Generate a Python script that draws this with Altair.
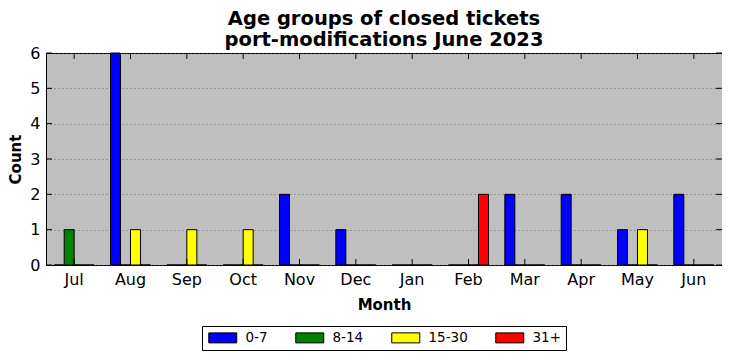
import altair as alt
import pandas as pd

months = ["Jul", "Aug", "Sep", "Oct", "Nov", "Dec", "Jan", "Feb", "Mar", "Apr", "May", "Jun"]
groups = ["0-7", "8-14", "15-30", "31+"]
c_0_7 = [0, 6, 0, 0, 2, 1, 0, 0, 2, 2, 1, 2]
c_8_14 = [1, 0, 0, 0, 0, 0, 0, 0, 0, 0, 0, 0]
c_15_30 = [0, 1, 1, 1, 0, 0, 0, 0, 0, 0, 1, 0]
c_31p = [0, 0, 0, 0, 0, 0, 0, 2, 0, 0, 0, 0]
colors = ["#0000ff", "#008000", "#ffff00", "#ff0000"]
y_ticks = [0, 1, 2, 3, 4, 5, 6]
title_lines = ["Age groups of closed tickets", "port-modifications June 2023"]

rows = []
for g, vals in zip(groups, [c_0_7, c_8_14, c_15_30, c_31p]):
    for m, v in zip(months, vals):
        rows.append({"Month": m, "Group": g, "Count": v})
df = pd.DataFrame(rows)
mdf = pd.DataFrame({"Month": months})
ydf = pd.DataFrame({"Count": y_ticks})

W, H = 676, 212
FONT = "DejaVu Sans"
TL = 6

xscale = alt.Scale(domain=months, paddingInner=0, paddingOuter=0)
yscale = alt.Scale(domain=[0, 6], nice=False)

xaxis = alt.Axis(title="Month", labelAngle=0, ticks=False, domain=False,
                 labelFontSize=16, labelPadding=6, labelColor="black",
                 titleFontSize=15, titleFontWeight="bold", titlePadding=10,
                 titleColor="black")
yaxis = alt.Axis(title="Count", values=y_ticks, ticks=False, domain=False,
                 grid=True, gridColor="#555555", gridDash=[1, 3], gridWidth=0.8,
                 labelOverlap=False, labelFlush=False,
                 labelFontSize=16, labelPadding=6, labelColor="black",
                 titleFontSize=15, titleFontWeight="bold", titlePadding=6,
                 titleColor="black")

bars = alt.Chart(df).mark_bar(stroke="black", strokeWidth=1).encode(
    x=alt.X("Month:N", sort=months, scale=xscale, axis=xaxis),
    xOffset=alt.XOffset("Group:N", sort=groups,
                        scale=alt.Scale(domain=groups, paddingInner=0, paddingOuter=0.818)),
    y=alt.Y("Count:Q", scale=yscale, axis=yaxis),
    color=alt.Color("Group:N", sort=groups, scale=alt.Scale(domain=groups, range=colors),
                    legend=alt.Legend(title=None, orient="none", legendX=156, legendY=273,
                                      direction="horizontal", columns=4,
                                      symbolType="M-1,-1H4.6V1H-1Z", symbolSize=100,
                                      symbolStrokeColor="black", symbolStrokeWidth=1,
                                      labelFontSize=13.5, labelOffset=25, columnPadding=25,
                                      padding=5, strokeColor="black", fillColor="white",
                                      labelColor="black", cornerRadius=0)),
)

xt_bottom = alt.Chart(mdf).mark_rule(color="black", strokeWidth=1).encode(
    x=alt.X("Month:N", sort=months, scale=xscale, axis=xaxis), y=alt.value(H), y2=alt.value(H - TL))
xt_top = alt.Chart(mdf).mark_rule(color="black", strokeWidth=1).encode(
    x=alt.X("Month:N", sort=months, scale=xscale, axis=xaxis), y=alt.value(0), y2=alt.value(TL))
yt_left = alt.Chart(ydf).mark_rule(color="black", strokeWidth=1).encode(
    y=alt.Y("Count:Q", scale=yscale, axis=yaxis), x=alt.value(0), x2=alt.value(TL))
yt_right = alt.Chart(ydf).mark_rule(color="black", strokeWidth=1).encode(
    y=alt.Y("Count:Q", scale=yscale, axis=yaxis), x=alt.value(W - TL), x2=alt.value(W))

chart = alt.layer(bars, xt_bottom, xt_top, yt_left, yt_right).properties(
    width=W, height=H,
    title=alt.TitleParams(text=title_lines, fontSize=19.5, fontWeight="bold", font=FONT,
                          anchor="middle", frame="group", baseline="bottom", offset=3,
                          dy=27, lineHeight=21, color="black"),
    autosize=alt.AutoSizeParams(type="none"),
    padding={"left": 38, "top": 45, "right": 0, "bottom": 88},
).configure(font=FONT).configure_view(
    fill="#bfbfbf", stroke="black", strokeWidth=1
)

chart.save("out.html", embed_options={"renderer": "svg", "actions": False})
